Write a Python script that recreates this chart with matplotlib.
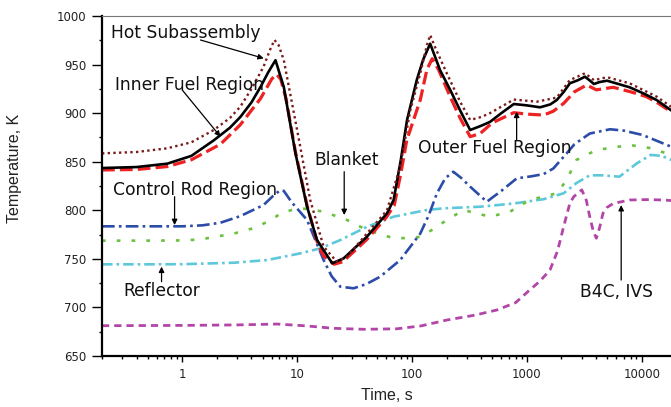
import matplotlib
matplotlib.use("Agg")
import matplotlib.pyplot as plt

# ---------------- data ----------------
t_hot = [0.2, 0.4, 0.74, 1.2, 1.88, 2.6, 3.2, 4.0, 5.1, 5.8, 6.35, 6.9, 7.65, 10, 13, 17, 22.2, 27,
         40.5, 60.6, 79, 96.7, 118, 135, 144, 160, 201, 262, 321, 400, 478, 770, 1220, 1822,
         2367, 3206, 3835, 4995, 7860, 13500, 18000]
y_hot = [858.6, 860, 863.8, 870, 882.6, 895, 906.6, 925, 947.8, 965, 975.3, 970, 954.7, 882.6, 810.6,
         762.5, 747, 752, 776, 800, 845, 903, 941, 970, 980.4, 967, 941, 912, 893, 896, 900, 914,
         911.8, 916, 934, 941, 934, 937, 930.7, 917, 906.6]

t_inner = [0.2, 0.4, 0.74, 1.2, 1.88, 2.6, 3.2, 4.0, 4.8, 5.6, 6.48, 7.65, 9.67, 12.2, 14.9, 20.2,
           25.4, 40.5, 60.6, 69.2, 80, 90.6, 110, 125, 144, 176, 215, 262, 321, 400, 478, 600, 770,
           1000, 1305, 1600, 1822, 2100, 2367, 2800, 3206, 3500, 3835, 4300, 4995, 7860, 10500,
           13500, 18000]
y_inner = [843.5, 844.5, 848, 856, 872, 885, 896, 911, 927, 942, 954.5, 927, 858.7, 803.7, 769.4,
           745.4, 750.5, 772.8, 796.9, 810.6, 852, 893, 934, 955, 971.5, 944, 924, 903, 882.6, 887,
           891, 900, 909.4, 908, 906, 909, 913.5, 922, 930.7, 934, 937.5, 934, 930, 932, 933.4,
           926.6, 920, 913.5, 903]

t_outer = [0.2, 0.4, 0.74, 1.2, 2.15, 3.2, 4.8, 6.0, 6.6, 7.2, 8.0, 9.67, 12.2, 14.9, 17, 21, 25,
           40.5, 60, 70, 80, 90, 118, 135, 150, 170, 215, 262, 321, 392, 500, 770, 1000, 1400,
           1700, 2090, 2600, 3320, 4030, 5650, 8000, 11000, 14000, 18000]
y_outer = [841.5, 842, 845, 852, 868, 888, 915, 935, 940, 935, 915, 860, 805, 768, 753, 744.5, 747,
           770, 793, 805, 838, 872, 913.5, 945, 956, 945, 917, 895, 875.8, 879, 890, 900.5, 899,
           898, 902, 910, 922, 929, 924, 926.6, 922, 917, 910, 901.5]

t_rod = [0.2, 0.5, 1.0, 1.5, 2.15, 3.2, 5.1, 6.2, 7.1, 7.65, 9, 12.2, 17, 20, 23.8, 31, 40, 52.8,
         79, 118, 140, 165, 195, 229, 270, 321, 448, 600, 818, 1100, 1400, 1700, 2090, 2600,
         3530, 5300, 7000, 10200, 18000]
y_rod = [783.5, 783.5, 783.5, 784.5, 787.2, 794, 805.4, 815, 820.5, 820, 808, 790, 748.8, 732,
         721.3, 719.7, 724, 731.6, 748.8, 776, 795, 817.5, 833, 839.7, 833, 824.3, 808.8, 820,
         832.9, 835, 837.3, 843, 855, 868, 879, 883.4, 882, 877.5, 865.5]

t_blanket = [0.2, 0.6, 1.0, 1.44, 2.8, 4.0, 5.5, 7.65, 10.7, 13, 17, 27.2, 40.5, 69.2, 100, 118,
             149, 201, 282, 360, 478, 711, 1060, 1822, 2220, 2700, 4030, 7860, 12000, 18000]
y_blanket = [768.7, 768.8, 769, 770, 776, 781, 788, 798.5, 802, 801, 798.5, 790, 779.7, 771.2,
             771.5, 772.8, 779.7, 790, 800.3, 797, 793.4, 798.5, 810.6, 817.5, 831, 851.8, 862,
             867.2, 864, 857]

t_refl = [0.2, 0.5, 1.0, 2.8, 5.5, 10.7, 16, 23.8, 40.5, 69.2, 135, 188, 393, 770, 1400, 2090,
          2700, 3530, 4500, 6400, 9100, 12000, 15000, 18000]
y_refl = [744.4, 744.4, 744.5, 746, 748.8, 755.7, 760.9, 769.4, 783, 793.4, 800.3, 802, 803.7,
          807, 811.4, 817.5, 828, 836, 836, 834.6, 848.4, 857, 856, 851.8]

t_b4c = [0.2, 1.0, 3.0, 6.7, 12, 20.8, 38, 74, 120, 201, 350, 547, 800, 1060, 1300, 1590, 1850,
         2090, 2367, 2560, 3010, 3300, 3530, 3800, 4030, 4300, 4600, 5000, 5650, 7860, 11000,
         15500, 18000]
y_b4c = [681.2, 681.5, 682, 682.9, 681, 678.5, 677.5, 678, 681, 687, 692, 697.3, 705, 718, 727,
         738.5, 758, 783, 807, 814, 821, 810, 793.4, 778, 771.2, 782, 796.9, 803, 807, 810.6, 811,
         810.6, 810]

y_ticks = [650, 700, 750, 800, 850, 900, 950, 1000]
x_ticks = [1, 10, 100, 1000, 10000]
x_ticklabels = ["1", "10", "100", "1000", "10000"]

# annotations: (text, text pos, arrow tail, arrow tip)
labels = [
    ("Hot Subassembly", (1.07, 982.5), (1.44, 975.3), (5.12, 956.4)),
    ("Inner Fuel Region", (1.146, 929), (1.0, 923.8), (2.15, 875.8)),
    ("Blanket", (26.8, 851.8), (25.7, 839.7), (25.7, 795.1)),
    ("Outer Fuel Region", (530, 864.1), (815, 872.3), (815, 901.5)),
    ("Control Rod Region", (1.28, 820.9), (0.857, 814), (0.857, 784.8)),
    ("Reflector", (0.66, 716.9), (0.66, 726.5), (0.66, 742)),
    ("B4C, IVS", (6090, 716.2), (6630, 728.2), (6630, 805.4)),
]

# ---------------- figure ----------------
fig = plt.figure(figsize=(6.71, 4.07), dpi=100)
ax = fig.add_axes([102 / 671, 1 - 356 / 407, 1 - 102 / 671, (356 - 16) / 407])

ax.plot(t_b4c, y_b4c, color="#b345a8", lw=2.0, ls=(0, (2.6, 1.8)))
ax.plot(t_refl, y_refl, color="#5cc8da", lw=1.9, ls=(0, (4, 1.5, 1, 1.5)))
ax.plot(t_blanket, y_blanket, color="#6cc040", lw=1.9, ls=(0, (1.4, 4.2)))
ax.plot(t_rod, y_rod, color="#2b4ca8", lw=1.9, ls=(0, (4.8, 1.6, 1, 1.6)))
ax.plot(t_outer, y_outer, color="#ee2222", lw=2.3, ls=(0, (4, 1.6)))
ax.plot(t_inner, y_inner, color="black", lw=1.9, ls="-")
ax.plot(t_hot, y_hot, color="#7a1a1a", lw=1.7, ls=(0, (1, 1.4)))

ax.set_xscale("log")
ax.set_xlim(0.2, 18000)
ax.set_ylim(650, 1000)
ax.set_yticks(y_ticks)
ax.set_yticks(range(675, 1000, 50), minor=True)
ax.set_xticks(x_ticks)
ax.set_xticklabels(x_ticklabels)

for s in ["left", "bottom"]:
    ax.spines[s].set_linewidth(1.6)
    ax.spines[s].set_color("black")
ax.spines["top"].set_linewidth(0.8)
ax.spines["top"].set_color("#777777")
ax.spines["right"].set_visible(False)

ax.tick_params(axis="y", which="major", direction="out", length=7, width=1.0, pad=4,
               labelsize=8.5, labelcolor="#222222")
ax.tick_params(axis="y", which="minor", direction="out", length=2.5, width=1.0)
ax.tick_params(axis="x", which="major", direction="out", length=4, width=1.0, pad=5,
               labelsize=8.5, labelcolor="#222222")
ax.tick_params(axis="x", which="minor", direction="out", length=2.5, width=1.0)

ax.set_ylabel("Temperature, K", fontsize=11.5, family="Liberation Sans", color="#222222")
ax.set_xlabel("Time, s", fontsize=11.5, family="Liberation Sans", color="#222222")
ax.yaxis.set_label_coords((15 - 102) / 569, (356 - 168) / 340)
ax.xaxis.set_label_coords((387 - 102) / 569, (356 - 396) / 340)
ax.xaxis.label.set_va("center")
ax.yaxis.label.set_va("center")

for txt, tpos, tail, tip in labels:
    ax.text(tpos[0], tpos[1], txt, ha="center", va="center", fontsize=12.3,
            family="DejaVu Sans", color="#111111")
    ax.annotate("", xy=tip, xytext=tail,
                arrowprops=dict(arrowstyle="-|>", color="black", lw=0.9,
                                mutation_scale=8, shrinkA=0, shrinkB=0))

fig.savefig("out.png", dpi=100)
